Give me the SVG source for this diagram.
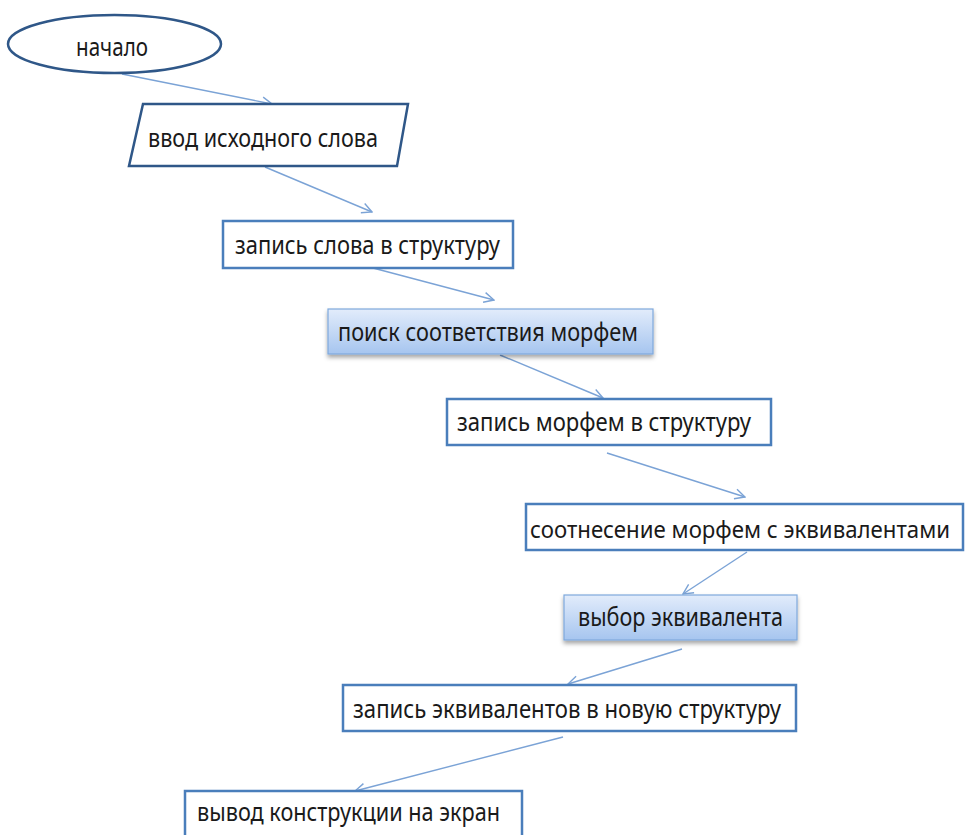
<svg xmlns="http://www.w3.org/2000/svg" width="965" height="835" viewBox="0 0 965 835">
<style>
  .t { font-family: "Noto Sans", "Open Sans", "Liberation Sans", sans-serif; font-size: 24.5px; fill: #1a1a1a; }
  .t.s { font-size: 23px; }
  .box { fill: #ffffff; stroke: #4a7ebb; stroke-width: 2.5; }
  .dark { fill: #ffffff; stroke: #2f5788; stroke-width: 2.5; }
  .grad { fill: url(#g); stroke: #7fa9dc; stroke-width: 1.2; filter: url(#sh); }
  .conn { fill: none; stroke: #7ba3d6; stroke-width: 1.4; marker-end: url(#arr); }
</style>
<defs>
  <linearGradient id="g" x1="0" y1="0" x2="0" y2="1">
    <stop offset="0" stop-color="#e2ecfb"/>
    <stop offset="1" stop-color="#a6c5ef"/>
  </linearGradient>
  <filter id="sh" x="-10%" y="-20%" width="120%" height="160%">
    <feDropShadow dx="0" dy="3" stdDeviation="2" flood-color="#000" flood-opacity="0.35"/>
  </filter>
  <marker id="arr" viewBox="0 0 12 12" refX="11" refY="6" markerWidth="12" markerHeight="12" markerUnits="userSpaceOnUse" orient="auto">
    <path d="M1,1 L11,6 L1,11" fill="none" stroke="#7ba3d6" stroke-width="1.4"/>
  </marker>
</defs>
<rect width="965" height="835" fill="#ffffff"/>

<g id="connectors">
  <line class="conn" x1="122" y1="74" x2="272" y2="104"/>
  <line class="conn" x1="265" y1="167" x2="372" y2="212"/>
  <line class="conn" x1="373" y1="268" x2="494" y2="300"/>
  <line class="conn" x1="500" y1="355" x2="603" y2="398"/>
  <line class="conn" x1="607" y1="453" x2="745" y2="497"/>
  <line class="conn" x1="747" y1="552" x2="683" y2="594"/>
  <line class="conn" x1="682" y1="649" x2="568" y2="684"/>
  <line class="conn" x1="563" y1="737" x2="355" y2="791"/>
</g>

<g id="n1">
  <ellipse class="dark" cx="114.5" cy="44" rx="106.5" ry="29"/>
  <text class="t" x="76" y="56" textLength="72" lengthAdjust="spacingAndGlyphs">начало</text>
</g>
<g id="n2">
  <polygon class="dark" points="143,104 408,104 397,166 129,166"/>
  <text class="t" x="148" y="147" textLength="230" lengthAdjust="spacingAndGlyphs">ввод исходного слова</text>
</g>
<g id="n3">
  <rect class="box" x="223" y="221" width="290" height="47"/>
  <text class="t" x="235" y="254" textLength="265" lengthAdjust="spacingAndGlyphs">запись слова в структуру</text>
</g>
<g id="n4">
  <rect class="grad" x="328" y="309" width="325" height="45"/>
  <text class="t" x="338" y="341" textLength="300" lengthAdjust="spacingAndGlyphs">поиск соответствия морфем</text>
</g>
<g id="n5">
  <rect class="box" x="447" y="399" width="324" height="46"/>
  <text class="t" x="457" y="431" textLength="294" lengthAdjust="spacingAndGlyphs">запись морфем в структуру</text>
</g>
<g id="n6">
  <rect class="box" x="526" y="504" width="437" height="46"/>
  <text class="t s" x="530" y="538" textLength="420" lengthAdjust="spacingAndGlyphs">соотнесение морфем с эквивалентами</text>
</g>
<g id="n7">
  <rect class="grad" x="564" y="595" width="233" height="45"/>
  <text class="t" x="578" y="626" textLength="205" lengthAdjust="spacingAndGlyphs">выбор эквивалента</text>
</g>
<g id="n8">
  <rect class="box" x="343" y="685" width="453" height="46"/>
  <text class="t" x="353" y="718" textLength="428" lengthAdjust="spacingAndGlyphs">запись эквивалентов в новую структуру</text>
</g>
<g id="n9">
  <rect class="box" x="185" y="791" width="337" height="50"/>
  <text class="t" x="197" y="821" textLength="303" lengthAdjust="spacingAndGlyphs">вывод конструкции на экран</text>
</g>
</svg>
